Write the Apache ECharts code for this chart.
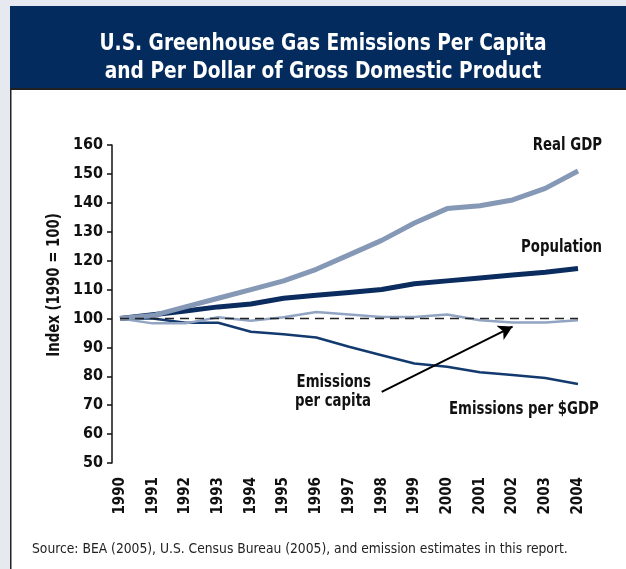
<!DOCTYPE html>
<html>
<head>
<meta charset="utf-8">
<script src="https://cdn.jsdelivr.net/npm/echarts@6/dist/echarts.min.js"></script>
<style>
  html, body { margin: 0; padding: 0; background: #e6e9ef; }
  #chart { width: 626px; height: 569px; }
</style>
</head>
<body>
<div id="chart"></div>
<script>
var years = ['1990', '1991', '1992', '1993', '1994', '1995', '1996', '1997',
    '1998', '1999', '2000', '2001', '2002', '2003', '2004'];
var realGdp = [100, 101, 104, 107, 110, 113, 117, 122, 127, 133, 138, 139, 141, 145, 151];
var population = [100, 101.3, 102.6, 104, 105, 107, 108, 109, 110, 112, 113, 114, 115, 116, 117.3];
var perCapita = [100, 98.3, 98.3, 100.4, 99.2, 100.4, 102.2, 101.4, 100.5, 100.5, 101.4, 99.4, 98.6, 98.6, 99.4];
var perGdp = [100, 100, 98.5, 98.5, 95.4, 94.5, 93.4, 90.2, 87.3, 84.4, 83.3, 81.4, 80.4, 79.4, 77.3];

var narrow = "'DejaVu Sans Condensed', 'Liberation Sans', sans-serif";

var chartDom = document.getElementById('chart');
var myChart = echarts.init(chartDom);

// labels are drawn a bit squeezed, the original font is a condensed face
function label(txt, x, y, align, extra) {
    var el = {
        type: 'text', x: x, y: y, scaleX: 0.87,
        style: { text: txt, font: 'bold 17px ' + narrow, fill: '#111',
                 align: align, verticalAlign: 'middle', lineHeight: 19 }
    };
    for (var k in extra) el[k] = extra[k];
    return el;
}

var option = {
    backgroundColor: '#e6e9ef',
    animation: false,
    graphic: [
        { type: 'rect', z: -10, shape: { x: 10, y: 89, width: 616, height: 480 },
          style: { fill: '#ffffff' } },
        { type: 'rect', z: -9, shape: { x: 10, y: 89, width: 1.5, height: 480 },
          style: { fill: '#222222' } },
        { type: 'rect', z: -9, shape: { x: 10, y: 6, width: 616, height: 83 },
          style: { fill: '#032b5d' } },
        { type: 'rect', z: -8, shape: { x: 10, y: 88, width: 616, height: 2 },
          style: { fill: '#1e2022' } },
        { type: 'text', x: 323, y: 30, scaleX: 0.9,
          style: { text: 'U.S. Greenhouse Gas Emissions Per Capita\nand Per Dollar of Gross Domestic Product',
                   font: 'bold 23px ' + narrow, fill: '#ffffff', align: 'center',
                   verticalAlign: 'top', lineHeight: 28 } },
        label('Index (1990 = 100)', 55, 285, 'center', { rotation: Math.PI / 2 }),
        label('Real GDP', 602, 146, 'right'),
        label('Population', 602, 248, 'right'),
        label('Emissions per $GDP', 449, 410, 'left'),
        label('Emissions\nper capita', 371, 392, 'right'),
        { type: 'text', x: 32, y: 549, scaleX: 0.98,
          style: { text: 'Source: BEA (2005), U.S. Census Bureau (2005), and emission estimates in this report.',
                   font: '14px ' + narrow, fill: '#222', align: 'left', verticalAlign: 'middle' } }
    ],
    grid: {
        left: 120,
        right: 48,
        top: 145,
        bottom: 106
    },
    xAxis: {
        type: 'category',
        data: years,
        boundaryGap: false,
        axisLine: { show: false },
        axisTick: { show: false },
        axisLabel: {
            rotate: 90,
            margin: 14,
            color: '#111',
            fontFamily: narrow,
            fontWeight: 'bold',
            fontSize: 15
        }
    },
    yAxis: {
        type: 'value',
        min: 50,
        max: 160,
        interval: 10,
        offset: 8,
        splitLine: { show: false },
        axisLine: { show: true, lineStyle: { color: '#111', width: 1.5 } },
        axisTick: { show: true, length: 5, lineStyle: { color: '#111', width: 1.5 } },
        axisLabel: {
            margin: 9,
            color: '#111',
            fontFamily: narrow,
            fontWeight: 'bold',
            fontSize: 16
        }
    },
    series: [
        {
            name: 'Emissions per $GDP',
            type: 'line',
            data: perGdp,
            symbol: 'none',
            lineStyle: { color: '#123a6e', width: 2.5 },
            markLine: {
                silent: true,
                symbol: 'none',
                label: { show: false },
                lineStyle: { color: '#222', width: 1.4, type: [9, 6] },
                data: [{ yAxis: 100 }]
            }
        },
        {
            name: 'Emissions per capita',
            type: 'line',
            data: perCapita,
            symbol: 'none',
            lineStyle: { color: '#91a4c2', width: 2.5 },
            markLine: {
                silent: true,
                symbol: ['none', 'arrow'],
                symbolSize: [12, 14],
                label: { show: false },
                lineStyle: { color: '#000', width: 2, type: 'solid' },
                data: [[{ coord: ['1998', 74.6] }, { coord: ['2002', 97.2] }]]
            }
        },
        {
            name: 'Population',
            type: 'line',
            data: population,
            symbol: 'none',
            lineStyle: { color: '#0b2c5e', width: 5 }
        },
        {
            name: 'Real GDP',
            type: 'line',
            data: realGdp,
            symbol: 'none',
            lineStyle: { color: '#8598b5', width: 5 }
        }
    ]
};

option && myChart.setOption(option);
</script>
</body>
</html>
